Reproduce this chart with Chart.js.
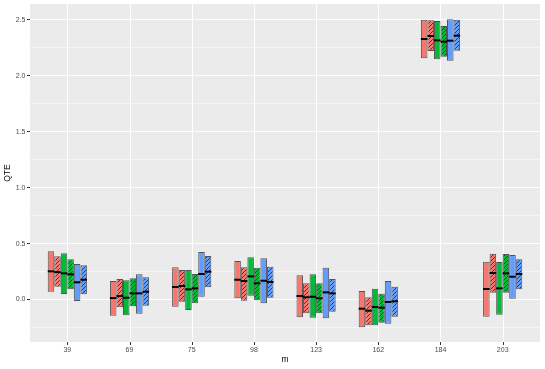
<!DOCTYPE html>
<html>
<head>
<meta charset="utf-8">
<script src="https://cdn.jsdelivr.net/npm/chart.js@4"></script>
<style>
  html, body { margin: 0; padding: 0; background: #fff; }
  #box { width: 545px; height: 369px; }
</style>
</head>
<body>
<div id="box"><canvas id="chart" width="545" height="369"></canvas></div>
<script>
// categories on the x axis (m)
const categories = ['39', '69', '75', '98', '123', '162', '184', '203']

// series order: red, red hatched, green, green hatched, blue, blue hatched
const seriesColors = ['#F8766D', '#F8766D', '#00BA38', '#00BA38', '#619CFF', '#619CFF']
const seriesHatched = [false, true, false, true, false, true]

const highs = [
    [0.431, 0.165, 0.288, 0.344, 0.216, 0.076, 2.503, 0.338],
    [0.386, 0.183, 0.264, 0.288, 0.145, 0.020, 2.497, 0.410],
    [0.413, 0.172, 0.264, 0.377, 0.225, 0.097, 2.491, 0.335],
    [0.360, 0.190, 0.228, 0.284, 0.145, 0.052, 2.446, 0.407],
    [0.318, 0.225, 0.425, 0.368, 0.284, 0.165, 2.506, 0.398],
    [0.306, 0.199, 0.389, 0.293, 0.183, 0.115, 2.503, 0.360],
]
const mids = [
    [0.252, 0.013, 0.112, 0.177, 0.031, -0.082, 2.330, 0.094],
    [0.245, 0.031, 0.121, 0.165, 0.020, -0.100, 2.357, 0.237],
    [0.234, 0.016, 0.091, 0.207, 0.025, -0.067, 2.318, 0.100],
    [0.225, 0.055, 0.100, 0.145, 0.011, -0.073, 2.306, 0.234],
    [0.154, 0.055, 0.228, 0.168, 0.064, -0.022, 2.315, 0.204],
    [0.177, 0.070, 0.249, 0.157, 0.055, -0.016, 2.360, 0.228],
]
const lows = [
    [0.070, -0.145, -0.064, 0.011, -0.159, -0.249, 2.157, -0.154],
    [0.115, -0.070, -0.020, -0.011, -0.123, -0.231, 2.223, 0.061],
    [0.049, -0.141, -0.094, 0.034, -0.163, -0.231, 2.148, -0.136],
    [0.091, -0.061, -0.034, -0.007, -0.123, -0.207, 2.172, 0.061],
    [-0.013, -0.127, 0.025, -0.034, -0.168, -0.216, 2.136, 0.007],
    [0.046, -0.055, 0.109, 0.016, -0.109, -0.154, 2.225, 0.091],
]

const FONT = "'Liberation Sans', Arial, sans-serif"

// диагональная штриховка
function hatch(color) {
    const c = document.createElement('canvas')
    c.width = 4
    c.height = 4
    const g = c.getContext('2d')
    g.fillStyle = color
    g.fillRect(0, 0, 4, 4)
    g.strokeStyle = 'rgba(50,50,50,0.9)'
    g.lineWidth = 1
    g.beginPath()
    g.moveTo(0, 4); g.lineTo(4, 0)
    g.moveTo(-1, 1); g.lineTo(1, -1)
    g.moveTo(3, 5); g.lineTo(5, 3)
    g.stroke()
    return g.createPattern(c, 'repeat')
}

// серый фон панели + вертикальная сетка по категориям
const panel = {
    id: 'panel',
    beforeDraw(chart) {
        const { ctx, chartArea: a } = chart
        ctx.save()
        ctx.fillStyle = '#EBEBEB'
        ctx.fillRect(a.left, a.top, a.right - a.left, a.bottom - a.top)
        ctx.restore()
    },
    beforeDatasetsDraw(chart) {
        const { ctx, chartArea: a } = chart
        const x = chart.scales.x
        ctx.save()
        ctx.lineWidth = 1
        categories.forEach((_, i) => {
            const px = Math.round(x.getPixelForValue(i)) + 0.5
            ctx.strokeStyle = '#fff'
            ctx.beginPath()
            ctx.moveTo(px, a.top)
            ctx.lineTo(px, a.bottom)
            ctx.stroke()
            ctx.strokeStyle = '#333'
            ctx.beginPath()
            ctx.moveTo(px, a.bottom)
            ctx.lineTo(px, a.bottom + 3)
            ctx.stroke()
        })
        ctx.restore()
    }
}

const medianLines = {
    id: 'medianLines',
    afterDatasetsDraw(chart) {
        const ctx = chart.ctx
        const y = chart.scales.y
        ctx.save()
        ctx.strokeStyle = '#000'
        ctx.lineWidth = 2
        chart.data.datasets.forEach((ds, d) => {
            const meta = chart.getDatasetMeta(d)
            meta.data.forEach((bar, i) => {
                const py = y.getPixelForValue(mids[d][i])
                ctx.beginPath()
                ctx.moveTo(bar.x - bar.width / 2, py)
                ctx.lineTo(bar.x + bar.width / 2, py)
                ctx.stroke()
            })
        })
        ctx.restore()
    }
}

const isMajor = v => Math.abs(v * 2 - Math.round(v * 2)) < 1e-6

const datasets = seriesColors.map((col, d) => ({
    label: 'series ' + (d + 1),
    data: categories.map((_, i) => ({ x: i, y: [lows[d][i], highs[d][i]] })),
    backgroundColor: seriesHatched[d] ? hatch(col) : col,
    borderColor: 'rgba(45,45,45,0.8)',
    borderWidth: 1,
    borderSkipped: false,
}))

new Chart(document.getElementById('chart'), {
    type: 'bar',
    data: { datasets },
    plugins: [panel, medianLines],
    options: {
        responsive: false,
        animation: false,
        layout: { padding: { top: 4, right: 5, left: 0, bottom: 0 } },
        plugins: { legend: { display: false }, tooltip: { enabled: false } },
        datasets: { bar: { categoryPercentage: 0.63, barPercentage: 1 } },
        scales: {
            x: {
                type: 'linear',
                min: -0.6,
                max: 7.6,
                offset: false,
                afterFit: s => { s.height = 27; s.paddingLeft = 0; s.paddingRight = 0 },
                border: { display: false },
                grid: { display: false, drawTicks: false },
                ticks: {
                    stepSize: 1,
                    includeBounds: false,
                    autoSkip: false,
                    maxRotation: 0,
                    padding: 4,
                    color: '#4D4D4D',
                    font: { family: FONT, size: 7 },
                    callback: v => categories[v] ?? ''
                },
                title: {
                    display: true,
                    text: 'm',
                    color: '#000',
                    font: { family: FONT, size: 8.5 },
                    padding: { top: 0, bottom: 4 }
                }
            },
            y: {
                min: -0.38,
                max: 2.643,
                afterFit: s => { s.width = 30; s.paddingTop = 0; s.paddingBottom = 0 },
                border: { display: false },
                grid: {
                    color: '#fff',
                    lineWidth: c => isMajor(c.tick.value) ? 1 : 0.5,
                    tickColor: c => isMajor(c.tick.value) ? '#333' : 'rgba(0,0,0,0)',
                    tickLength: 3
                },
                ticks: {
                    stepSize: 0.25,
                    includeBounds: false,
                    padding: 1.5,
                    color: '#4D4D4D',
                    font: { family: FONT, size: 7 },
                    callback: v => isMajor(v) ? v.toFixed(1) : ''
                },
                title: {
                    display: true,
                    text: 'QTE',
                    color: '#000',
                    font: { family: FONT, size: 8.5 },
                    padding: { top: 2.4, bottom: 0 }
                }
            }
        }
    }
})
</script>
</body>
</html>
